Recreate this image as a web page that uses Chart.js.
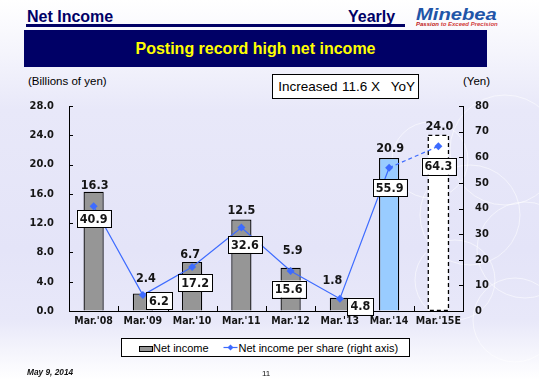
<!DOCTYPE html>
<html><head><meta charset="utf-8">
<script src="https://cdn.jsdelivr.net/npm/chart.js@4"></script>
<style>
html,body{margin:0;padding:0}
body{width:539px;height:380px;overflow:hidden;position:relative;font-family:"Liberation Sans",Arial,sans-serif;
background:linear-gradient(to bottom,#ffffff 0px,#f4f4fc 55px,#e8e8f9 110px,#e4e4f8 250px,#e8e8f9 320px,#f4f4fc 350px,#ffffff 380px);}
.t{position:absolute;white-space:nowrap;line-height:1}
#c{position:absolute;left:0;top:0}
</style></head>
<body>
<svg width="539" height="380" style="position:absolute;left:0;top:0" fill="none" stroke="#ffffff" stroke-opacity="0.55" stroke-width="1">
<circle cx="505" cy="150" r="55"/><circle cx="470" cy="215" r="50"/><circle cx="525" cy="250" r="48"/>
<circle cx="455" cy="280" r="40"/><circle cx="515" cy="320" r="42"/><circle cx="430" cy="160" r="38"/>
</svg>
<div class="t" style="left:27px;top:8.5px;font-size:16px;font-weight:bold;color:#000066">Net Income</div>
<div class="t" style="left:348px;top:8.5px;font-size:16px;font-weight:bold;color:#000066">Yearly</div>
<div style="position:absolute;left:26px;top:23.5px;width:379px;height:2px;background:#000066"></div>
<div style="position:absolute;left:26px;top:26px;width:379px;height:1px;background:#000066"></div>
<div class="t" style="left:416px;top:7.2px;font-size:16px;font-weight:bold;font-style:italic;color:#1f55a8;transform:scaleX(1.26);transform-origin:0 0">Minebea</div>
<div class="t" style="left:416px;top:21.2px;font-size:6px;font-weight:bold;font-style:italic;color:#d23c3c"><span style="color:#c01818">Passion</span> to Exceed Precision</div>
<div style="position:absolute;left:24px;top:30px;width:463px;height:37px;background:#000066;color:#ffff00;font-size:16px;font-weight:bold;text-align:center;line-height:37px">Posting record high net income</div>
<div class="t" style="left:28px;top:76px;font-size:11.5px;color:#000">(Billions of yen)</div>
<div class="t" style="left:463px;top:76px;font-size:11.5px;color:#000">(Yen)</div>
<div style="position:absolute;left:272px;top:74px;width:145px;height:23px;background:#fff;border:1px solid #000"></div>
<div class="t" style="left:278.3px;top:80.3px;font-size:13.5px;color:#000">Increased</div>
<div class="t" style="left:342px;top:80.3px;font-size:13.5px;color:#000">11.6 X</div>
<div class="t" style="left:390.7px;top:80.3px;font-size:13.5px;color:#000">YoY</div>
<canvas id="c" width="539" height="380"></canvas>
<div style="position:absolute;left:121px;top:338px;width:287px;height:17px;background:#fff;border:1px solid #000"></div>
<div style="position:absolute;left:138.5px;top:345.5px;width:12px;height:4px;background:#969696;border:1px solid #000"></div>
<div class="t" style="left:153px;top:343px;font-size:11px;color:#000">Net income</div>
<svg width="16" height="10" style="position:absolute;left:223px;top:343px"><line x1="0.5" y1="4.5" x2="14.5" y2="4.5" stroke="#3d6bff" stroke-width="1.2"/><path d="M7.5 1.5 L10.5 4.5 L7.5 7.5 L4.5 4.5 Z" fill="#3d6bff"/></svg>
<div class="t" style="left:238.5px;top:343px;font-size:11px;color:#000">Net income per share (right axis)</div>
<div class="t" style="left:27px;top:368px;font-size:8.3px;font-weight:bold;font-style:italic;color:#111">May 9, 2014</div>
<div class="t" style="left:262px;top:370px;font-size:8px;color:#111">11</div>
<script>
const categories = ["Mar.'08","Mar.'09","Mar.'10","Mar.'11","Mar.'12","Mar.'13","Mar.'14","Mar.'15E"];
const netIncome = [16.3, 2.4, 6.7, 12.5, 5.9, 1.8, 20.9, 24.0];
const netIncomePerShare = [40.9, 6.2, 17.2, 32.6, 15.6, 4.8, 55.9, 64.3];
const leftTicks = [0, 4, 8, 12, 16, 20, 24, 28];
const rightTicks = [0, 10, 20, 30, 40, 50, 60, 70, 80];

const FONT = "'DejaVu Sans Condensed','DejaVu Sans',sans-serif";
const TXT = '#151515';
const LINE = '#3d6bff';
// label placement styles (pixel offsets)
const barLabelStyle = { dx:[1,3,-2,0,2,-7.5,1,1], gap:[2.5,11.7,3.7,5,13.8,13.5,5.6,5] };
const boxLabelStyle = { dx:[0,16,3,3.5,-2,20.5,0.5,0], dy:[12.5,5.5,16,17,18,7.5,20,20] };

const axisTicks = {
  id:'axisTicks',
  afterDatasetsDraw(chart){
    const ctx = chart.ctx, a = chart.chartArea;
    ctx.save(); ctx.strokeStyle = '#000'; ctx.lineWidth = 1;
    const y = chart.scales.y, y1 = chart.scales.y1, x = chart.scales.x;
    ctx.beginPath();
    y.ticks.forEach((t,i)=>{ const p = Math.round(y.getPixelForTick(i))+0.5; ctx.moveTo(a.left, p); ctx.lineTo(a.left+4, p); });
    y1.ticks.forEach((t,i)=>{ const p = Math.round(y1.getPixelForTick(i))+0.5; ctx.moveTo(a.right, p); ctx.lineTo(a.right-4, p); });
    for (let i=1;i<categories.length;i++){
      const p = Math.round((x.getPixelForTick(i-1)+x.getPixelForTick(i))/2)+0.5;
      ctx.moveTo(p, a.bottom); ctx.lineTo(p, a.bottom-5);
    }
    ctx.stroke(); ctx.restore();
  }
};

const dashedBar = {
  id:'dashedBar',
  afterDatasetDraw(chart, args){
    if (args.index !== 0) return;
    const el = chart.getDatasetMeta(0).data[categories.length-1];
    const ctx = chart.ctx;
    const l = el.x - el.width/2, r = el.x + el.width/2;
    ctx.save(); ctx.strokeStyle='#000'; ctx.lineWidth=1.3; ctx.setLineDash([4,3]);
    ctx.strokeRect(l, el.y, r-l, el.base-el.y);
    ctx.restore();
  }
};

const valueLabels = {
  id:'valueLabels',
  afterDraw(chart){
    const ctx = chart.ctx;
    ctx.save();
    ctx.font = 'bold 12.5px ' + FONT;
    ctx.fillStyle = TXT; ctx.textAlign='center'; ctx.textBaseline='alphabetic';
    const bars = chart.getDatasetMeta(0).data;
    bars.forEach((el,i)=>{
      ctx.fillText(netIncome[i].toFixed(1), el.x + barLabelStyle.dx[i], el.y - barLabelStyle.gap[i]);
    });
    const pts = chart.getDatasetMeta(1).data;
    pts.forEach((el,i)=>{
      const s = netIncomePerShare[i].toFixed(1);
      const w = ctx.measureText(s).width + 6, h = 17;
      const cx = el.x + boxLabelStyle.dx[i], cy = el.y + boxLabelStyle.dy[i];
      ctx.fillStyle='#fff'; ctx.fillRect(cx-w/2, cy-h/2, w, h);
      ctx.strokeStyle='#000'; ctx.lineWidth=1; ctx.setLineDash([]);
      ctx.strokeRect(Math.round(cx-w/2)+0.5, Math.round(cy-h/2)+0.5, Math.round(w), h);
      ctx.fillStyle=TXT; ctx.textBaseline='middle';
      ctx.fillText(s, cx, cy+1);
      ctx.textBaseline='alphabetic';
    });
    ctx.restore();
  }
};

new Chart(document.getElementById('c'), {
  data: {
    labels: categories,
    datasets: [
      { type:'bar', label:'Net income', data: netIncome, yAxisID:'y', order:2,
        backgroundColor: ['#969696','#969696','#969696','#969696','#969696','#969696','#99ccff','#ffffff'],
        borderColor:'#000', borderWidth:[1.3,1.3,1.3,1.3,1.3,1.3,1.3,0],
        barPercentage:0.41, categoryPercentage:1 },
      { type:'line', label:'Net income per share (right axis)', data: netIncomePerShare, yAxisID:'y1', order:1,
        borderColor: LINE, backgroundColor: LINE, borderWidth:1.2,
        pointStyle:'rectRot', pointRadius:4, pointBorderWidth:0, pointBackgroundColor: LINE,
        segment:{ borderDash: c => c.p1DataIndex === categories.length-1 ? [4,3] : undefined } }
    ]
  },
  options: {
    responsive:false, animation:false, devicePixelRatio:1,
    layout:{ padding:{ left:0, right:0, top:106, bottom:39 } },
    plugins:{ legend:{display:false}, tooltip:{enabled:false} },
    scales:{
      x:{ offset:true,
          grid:{ display:true, drawOnChartArea:false, drawTicks:false },
          border:{ display:true, color:'#000', width:1 },
          ticks:{ font:{ family:FONT, size:10.5, weight:'bold' }, color:TXT, padding:4, maxRotation:0, autoSkip:false },
          afterFit(s){ s.height = 30; } },
      y:{ position:'left', min:0, max:28, afterBuildTicks(s){ s.ticks = leftTicks.map(v=>({value:v})); },
          grid:{ display:true, drawOnChartArea:false, drawTicks:false },
          border:{ display:true, color:'#000', width:1 },
          ticks:{ font:{ family:FONT, size:11, weight:'bold' }, color:TXT, padding:15, callback:v=>Number(v).toFixed(1) },
          afterFit(s){ s.width = 69; } },
      y1:{ position:'right', min:0, max:80, afterBuildTicks(s){ s.ticks = rightTicks.map(v=>({value:v})); },
          grid:{ display:true, drawOnChartArea:false, drawTicks:false },
          border:{ display:true, color:'#000', width:1 },
          ticks:{ font:{ family:FONT, size:11, weight:'bold' }, color:TXT, padding:12, callback:v=>String(v) },
          afterFit(s){ s.width = 76; } }
    }
  },
  plugins:[axisTicks, dashedBar, valueLabels]
});
</script>
</body></html>
